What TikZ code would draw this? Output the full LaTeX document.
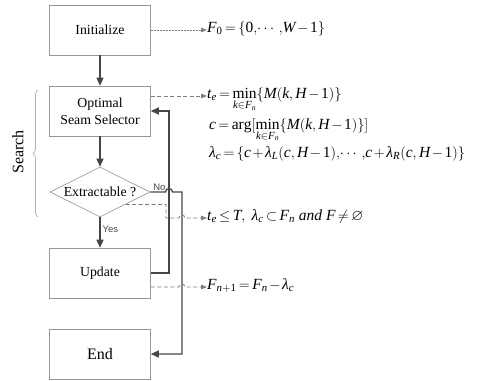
\documentclass[tikz,border=0pt]{standalone}
\usepackage{amsmath,amssymb}
\usepackage{fontspec}
\setmainfont{Liberation Serif}
\newfontfamily\labfont{Liberation Sans}
\usepackage{tikz}
\usetikzlibrary{arrows.meta,shapes.geometric,decorations.pathreplacing}
% Times-like letters and digits in math
\DeclareSymbolFont{tit}{TU}{\rmdefault}{m}{it}
\DeclareSymbolFont{tup}{TU}{\rmdefault}{m}{n}
\SetSymbolFont{operators}{normal}{TU}{\rmdefault}{m}{n}
\AtBeginDocument{%
    \count255=`A
    \loop \Umathcode\count255="7 \symtit \count255
    \ifnum\count255<`Z \advance\count255 by 1 \repeat
    \count255=`a
    \loop \Umathcode\count255="7 \symtit \count255
    \ifnum\count255<`z \advance\count255 by 1 \repeat
    \count255=`0
    \loop \Umathcode\count255="7 \symtup \count255
    \ifnum\count255<`9 \advance\count255 by 1 \repeat
    \Umathchardef\lambda="7 \symtit "03BB\relax
}
\newcommand{\tightmath}{\medmuskip=2mu\relax\thickmuskip=3mu\relax}
\newcommand{\dts}{,\!\cdots,\!}
\definecolor{boxgray}{RGB}{150,150,150}
\definecolor{flowgray}{RGB}{70,70,70}
\definecolor{dashgray}{RGB}{125,125,125}
\definecolor{bracegray}{RGB}{175,175,175}
\tikzset{
    blk/.style={
        rectangle,
        draw=boxgray,
        fill=white,
        line width=0.6pt,
        minimum width=101pt,
        minimum height=50pt,
        inner sep=2pt,
        align=center,
        font=\fontsize{13.8}{17}\selectfont
    },
    dec/.style={
        diamond,
        draw=boxgray,
        fill=white,
        line width=0.6pt,
        aspect=2,
        minimum width=100pt,
        minimum height=50pt,
        inner sep=0pt,
        font=\fontsize{13.8}{17}\selectfont
    },
    eq/.style={inner sep=0pt, font=\fontsize{15.5}{18}\selectfont\tightmath},
    lab/.style={inner sep=1pt, font=\labfont\fontsize{9.5}{11}\selectfont},
    arr/.style={-{Triangle[length=8pt,width=7pt]},line width=1.3pt,flowgray},
    dsh/.style={-{Triangle[length=6pt,width=4.5pt]},line width=0.8pt,dashgray,dash pattern=on 4pt off 2.5pt},
    fine/.style={-{Triangle[length=6pt,width=4.5pt]},line width=0.7pt,dashgray,dash pattern=on 1.8pt off 1.2pt},
    brc/.style={decorate,decoration={brace,amplitude=5pt},bracegray,line width=0.7pt}
}

\begin{document}
\begin{tikzpicture}[x=1pt,y=-1pt]
\useasboundingbox (0,0) rectangle (489,380);

\node[blk] (init) at (100,30) {Initialize};
\node[blk] (sel) at (100,111) {Optimal\\Seam Selector};
\node[dec] (ext) at (100,192) {Extractable ?};
\node[blk] (upd) at (100,273) {Update};
\node[blk, font=\fontsize{16}{19}\selectfont] (stop) at (100,354) {End};

\node[eq, anchor=mid west] (f0) at (207,30) {$F_0=\{0\dts W-1\}$};
\node[eq, anchor=mid west] (te) at (207,96) {$t_e=\min\limits_{k\in F_n}\{M(k,H-1)\}$};
\node[eq, anchor=base west] (cc) at (209,129) {$c=\arg[\min\limits_{k\in F_n}\{M(k,H-1)\}]$};
\node[eq, anchor=base west] (lam) at (209,157) {$\lambda_c=\{c+\lambda_L(c,H-1)\dts c+\lambda_R(c,H-1)\}$};
\node[eq, anchor=mid west] (cond) at (207,218) {$t_e\le T,\ \lambda_c\subset F_n\ \mathit{and}\ F\ne\varnothing$};
\node[eq, anchor=mid west] (fn) at (207,287) {$F_{n+1}=F_n-\lambda_c$};

\draw[brc] (38,217) -- (38,90);
\node[rotate=90, font=\fontsize{16}{19}\selectfont] (search) at (18,152) {Search};

\draw[arr] (init) -- (sel);
\draw[arr] (sel) -- (ext);
\draw[arr] (ext) -- node[lab, pos=0.38, right=1pt] {Yes} (upd);
\draw[arr] (upd.east) -- (169,273) |- (sel.east);
\draw[arr] (ext.east) -- node[lab, above, pos=0.6] {No} (165.5,192)
    arc[start angle=180, end angle=360, radius=3.5] -- (182,192) |- (stop);

\draw[fine] (init) -- (f0.mid west);
\draw[dsh] (sel.east |- te.mid west) -- (te.mid west);
\draw[dsh] (ext.-26) -| (166,218) -- (179,218)
    arc[start angle=180, end angle=360, radius=3] -- (cond.mid west);
\draw[dsh] (upd.east |- fn.mid west) -- (179,287)
    arc[start angle=180, end angle=360, radius=3] -- (fn.mid west);
\end{tikzpicture}
\end{document}
